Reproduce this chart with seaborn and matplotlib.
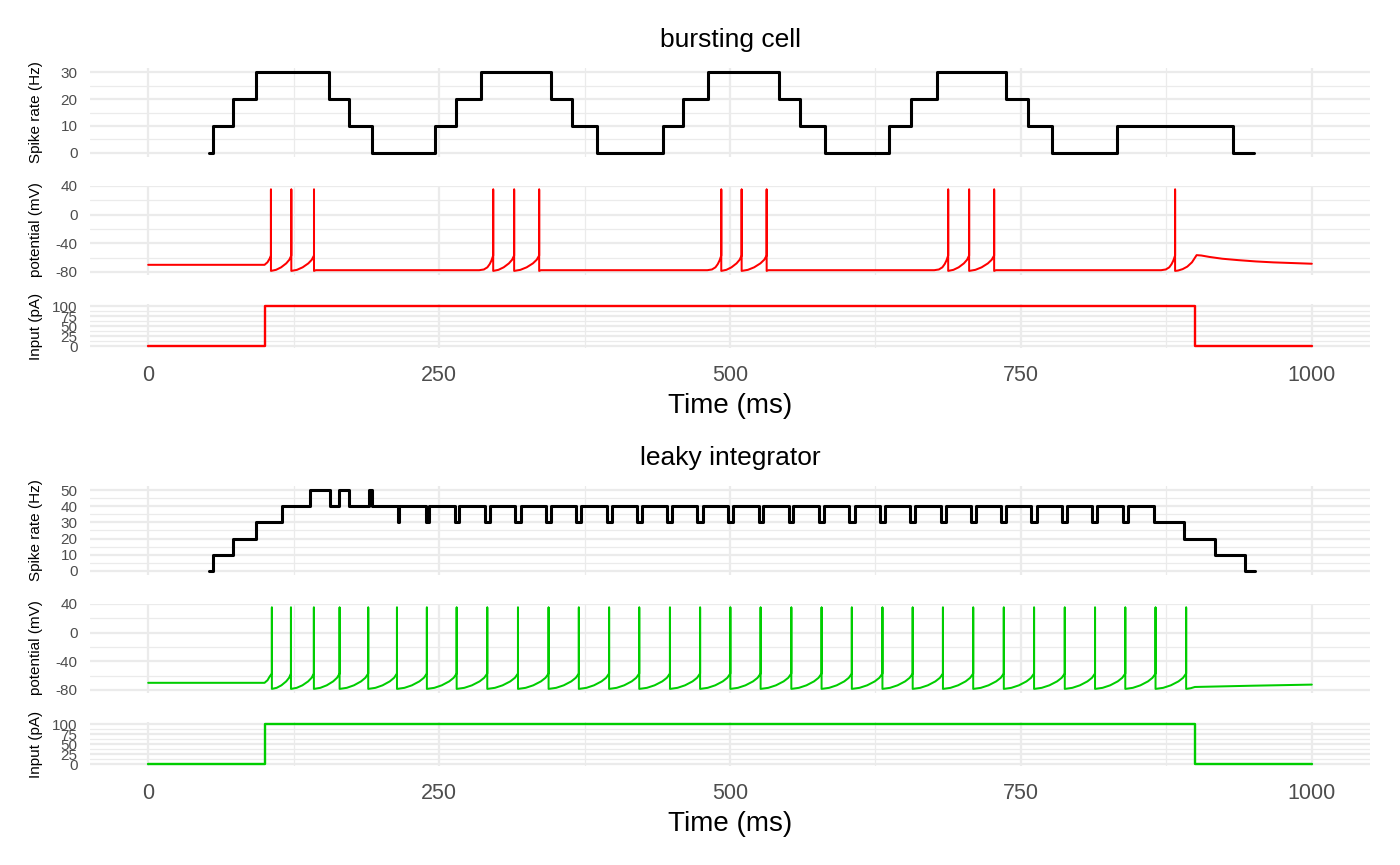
import matplotlib
matplotlib.use("Agg")
import matplotlib.pyplot as plt
import seaborn as sns
import pandas as pd

# ── Data ───────────────────────────────────────────────────────────────────
# spike rate (Hz): change points, drawn as post steps; last entry closes the line
BURST_RATE_T = [52, 55.5, 73, 92.5, 155.5, 173, 192.5, 246.5, 264.5, 286, 346.5,
                364.5, 386, 442.5, 460, 481.5, 542, 560, 581.5, 637, 655.5, 677.5,
                737.5, 756, 777, 833, 932.5, 950]
BURST_RATE_HZ = [0, 10, 20, 30, 20, 10, 0, 10, 20, 30, 20,
                 10, 0, 10, 20, 30, 20, 10, 0, 10, 20, 30,
                 20, 10, 0, 10, 0, 0]

LEAKY_RATE_T = [52, 56, 72.5, 92.5, 115, 139, 156, 164, 172.5, 189.5, 192,
                214.5, 215.5, 239, 241.5, 264, 267.5, 289.5, 294, 315, 320,
                341.5, 346, 368, 372, 394, 398.5, 420, 424.5, 446, 450.5,
                472, 476.5, 498.5, 502.5, 524.5, 528.5, 550.5, 554.5, 576.5, 581,
                602.5, 607, 628.5, 633, 654.5, 659, 681, 685.5, 707, 711.5,
                733, 737.5, 759, 763.5, 785.5, 789.5, 811.5, 815.5, 837.5, 842,
                864.5, 890.5, 916.5, 943, 951.5]
LEAKY_RATE_HZ = [0, 10, 20, 30, 40, 50, 40, 50, 40, 50, 40,
                 30, 40, 30, 40, 30, 40, 30, 40, 30, 40,
                 30, 40, 30, 40, 30, 40, 30, 40, 30, 40,
                 30, 40, 30, 40, 30, 40, 30, 40, 30, 40,
                 30, 40, 30, 40, 30, 40, 30, 40, 30, 40,
                 30, 40, 30, 40, 30, 40, 30, 40, 30, 40,
                 30, 20, 10, 0, 0]

# spike times (ms)
BURST_SPIKES = [105.5, 123, 142.5, 296.5, 314.5, 336, 492.5, 510, 531.5,
                687.5, 705.5, 727, 882.5]
LEAKY_SPIKES = [106.3, 122.7, 142.4, 164.5, 189.1, 213.8, 239.5, 265.1, 291.4,
                317.8, 344.1, 370.1, 396.1, 422.0, 448.4, 474.3, 500.3, 526.3,
                552.7, 578.7, 604.7, 631.0, 657.0, 683.0, 709.0, 735.3, 761.3,
                787.7, 813.7, 839.7, 865.7, 892.0]

# membrane potential levels (mV)
V_PEAK = 35
V_RESET = -78.5
# recovery between close spikes: fraction of the interval -> mV
ISI_FRAC = [0, 0.25, 0.5, 0.75, 0.9, 1.0]
ISI_MV = [-78.5, -77, -73.5, -68, -63, -57]
# between bursts: short plateau, then ramp (ms before next spike -> mV)
PLATEAU_DT, PLATEAU_MV = 1.5, -77.5
RAMP_DT = [-12, -8, -5, -3, -1.5, 0]
RAMP_MV = [-77.5, -76.5, -73.5, -69, -64, -57]

ONSET_T = [0, 100, 102.5, 104.5]
ONSET_MV = [-70, -70, -66.5, -61]

BURST_TAIL_T = [885, 889, 893, 897, 901, 905, 912, 923, 937, 952, 967, 981, 1000]
BURST_TAIL_MV = [-78, -76, -72.5, -66.5, -56.5, -57, -59, -61.5, -63.5, -65.3,
                 -66.6, -67.4, -68.5]
LEAKY_TAIL_T = [896, 899.5, 950, 1000]
LEAKY_TAIL_MV = [-77.5, -75.8, -74, -72.5]

# input current (pA)
INPUT_T = [0, 100, 100, 900, 900, 1000]
INPUT_PA = [0, 0, 100, 100, 0, 0]

RED = "#FF0000"
GREEN = "#00CD00"
GRID = "#EBEBEB"

W, H = 1400, 865


def potential_table(spikes, tail_t, tail_mv):
    t, v = list(ONSET_T), list(ONSET_MV)
    for k, s in enumerate(spikes):
        t += [s, s, s]
        v += [ISI_MV[-1], V_PEAK, V_RESET]
        if k + 1 == len(spikes):
            break
        nxt = spikes[k + 1]
        gap = nxt - s
        if gap < 40:
            t += [s + f * gap for f in ISI_FRAC[1:-1]]
            v += ISI_MV[1:-1]
        else:
            t += [s + PLATEAU_DT] + [nxt + d for d in RAMP_DT[:-1]]
            v += [PLATEAU_MV] + RAMP_MV[:-1]
    t += tail_t
    v += tail_mv
    return pd.DataFrame({"t": t, "v": v})


sns.set_theme(style="whitegrid")
plt.rcParams["font.family"] = ["Liberation Sans", "DejaVu Sans"]
plt.rcParams["axes.unicode_minus"] = False

fig = plt.figure(figsize=(W / 100, H / 100), dpi=100)


def panel(top, bottom):
    return fig.add_axes([90 / W, 1 - bottom / H, 1280 / W, (bottom - top) / H])


def style(ax, ylim, yticks, yminor, ylabel, show_x):
    ax.set_xlim(-50, 1050)
    ax.set_ylim(*ylim)
    ax.set_xticks([0, 250, 500, 750, 1000])
    ax.set_xticks([125, 375, 625, 875], minor=True)
    ax.set_yticks(yticks)
    ax.set_yticks(yminor, minor=True)
    ax.set_facecolor("white")
    for sp in ax.spines.values():
        sp.set_visible(False)
    ax.grid(which="major", color=GRID, linewidth=1.6)
    ax.grid(which="minor", color=GRID, linewidth=0.9)
    ax.set_axisbelow(True)
    ax.tick_params(which="both", length=0)
    ax.tick_params(axis="y", labelsize=11, labelcolor="#4D4D4D", pad=9)
    ax.tick_params(axis="x", labelsize=15.5, labelcolor="#4D4D4D", pad=12)
    if not show_x:
        ax.set_xticklabels([])
    ax.set_ylabel(ylabel, fontsize=11, color="black")
    ax.yaxis.set_label_coords(-54 / 1280, 0.5)
    ax.yaxis.label.set_va("center")


groups = [
    ("bursting cell", 0, RED, BURST_RATE_T, BURST_RATE_HZ, (-1.5, 31.5),
     [0, 10, 20, 30], [5, 15, 25], BURST_SPIKES, BURST_TAIL_T, BURST_TAIL_MV),
    ("leaky integrator", 418, GREEN, LEAKY_RATE_T, LEAKY_RATE_HZ, (-2.5, 52.5),
     [0, 10, 20, 30, 40, 50], [5, 15, 25, 35, 45], LEAKY_SPIKES, LEAKY_TAIL_T,
     LEAKY_TAIL_MV),
]

for (name, off, col, rate_t, rate_hz, rlim, rticks, rminor,
     spikes, tail_t, tail_mv) in groups:
    # spike rate
    ax1 = panel(68 + off, 157 + off)
    rate = pd.DataFrame({"t": rate_t, "hz": rate_hz})
    sns.lineplot(data=rate, x="t", y="hz", ax=ax1, color="black", linewidth=2.2,
                 estimator=None, sort=False, drawstyle="steps-post", legend=False)
    style(ax1, rlim, rticks, rminor, "Spike rate (Hz)", False)
    ax1.set_xlabel("")

    # membrane potential
    ax2 = panel(185.5 + off, 274.6 + off)
    pot = potential_table(spikes, tail_t, tail_mv)
    sns.lineplot(data=pot, x="t", y="v", ax=ax2, color=col, linewidth=1.45,
                 estimator=None, sort=False, legend=False)
    style(ax2, (-83.65, 40.65), [-80, -40, 0, 40], [-60, -20, 20],
          "potential (mV)", False)
    ax2.set_xlabel("")

    # input current
    ax3 = panel(304 + off, 348 + off)
    inp = pd.DataFrame({"t": INPUT_T, "pa": INPUT_PA})
    sns.lineplot(data=inp, x="t", y="pa", ax=ax3, color=col, linewidth=1.7,
                 estimator=None, sort=False, legend=False)
    style(ax3, (-5, 105), [0, 25, 50, 75, 100], [12.5, 37.5, 62.5, 87.5],
          "Input (pA)", True)
    ax3.set_xlabel("Time (ms)", fontsize=20, color="black", labelpad=5)

    fig.text(730 / W, 1 - (47 + off) / H, name, ha="center", va="baseline",
             fontsize=19, color="black")

fig.savefig("out.png", dpi=100)
plt.close(fig)
